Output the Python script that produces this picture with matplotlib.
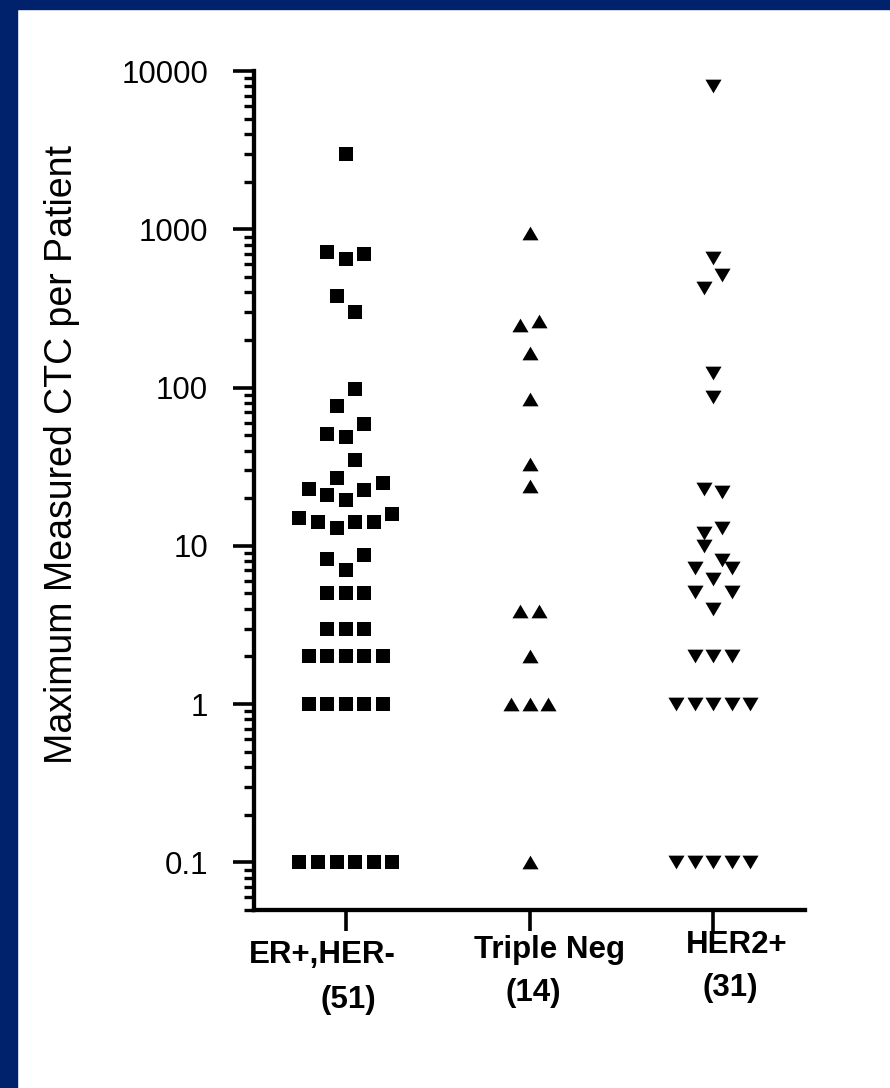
import matplotlib.pyplot as plt
from matplotlib.patches import Rectangle
from matplotlib.ticker import LogLocator, NullFormatter

plt.rcParams['font.family'] = ['Liberation Sans', 'DejaVu Sans']

# groups and patient counts
categories = ['ER+,HER-', 'Triple Neg', 'HER2+']
counts = [51, 14, 31]

# max CTC per patient; slots = horizontal position inside the column
er_vals = [3000, 720, 650, 700, 380, 300,
           98, 76, 59, 51, 49, 35, 27, 25, 23, 21, 22.5, 19.5,
           15, 14.2, 13, 14.2, 14.2, 16, 8.2, 8.8, 7,
           5, 5, 5, 3, 3, 3, 2, 2, 2, 2, 2, 1, 1, 1, 1, 1,
           0.1, 0.1, 0.1, 0.1, 0.1, 0.1]
er_slots = [0, -2, 0, 2, -1, 1,
            1, -1, 2, -2, 0, 1, -1, 4, -4, -2, 2, 0,
            -5, -3, -1, 1, 3, 5, -2, 2, 0,
            -2, 0, 2, -2, 0, 2, -4, -2, 0, 2, 4, -4, -2, 0, 2, 4,
            -5, -3, -1, 1, 3, 5]

tn_vals = [950, 250, 265, 165, 85, 33, 24, 3.9, 3.9, 2, 1, 1, 1, 0.1]
tn_slots = [0, -1, 1, 0, 0, 0, 0, -1, 1, 0, -2, 0, 2, 0]

her_vals = [8000, 660, 515, 425, 124, 87, 23, 22, 13, 12, 10, 8.1,
            7.2, 7.2, 6.2, 5.1, 5.1, 4, 2, 2, 2,
            1, 1, 1, 1, 1, 0.1, 0.1, 0.1, 0.1, 0.1]
her_slots = [0, 0, 1, -1, 0, 0, -1, 1, 1, -1, -1, 1,
             -2, 2, 0, -2, 2, 0, -2, 0, 2,
             -4, -2, 0, 2, 4, -4, -2, 0, 2, 4]

yticks = [0.1, 1, 10, 100, 1000, 10000]
ytick_labels = ['0.1', '1', '10', '100', '1000', '10000']

W, H = 890, 1088
navy = '#00216C'
slot_w = 0.0505

up_tri = [(-1, -0.85), (1, -0.85), (0, 0.85)]
down_tri = [(-1, 0.85), (1, 0.85), (0, -0.85)]

fig = plt.figure(figsize=(W / 100, H / 100), dpi=100)
fig.patches.append(Rectangle((0, 0), 17 / W, 1, transform=fig.transFigure, color=navy))
fig.patches.append(Rectangle((0, 1 - 9 / H), 1, 9 / H, transform=fig.transFigure, color=navy))

ax = fig.add_axes([254 / W, 1 - 910 / H, (805 - 254) / W, (910 - 71) / H])

groups = [(er_vals, er_slots, 's', 9.8),
          (tn_vals, tn_slots, up_tri, 11.6),
          (her_vals, her_slots, down_tri, 11.6)]
for i, (vals, slots, mk, ms) in enumerate(groups):
    xs = [i + 1 + s * slot_w for s in slots]
    ax.plot(xs, vals, linestyle='none', marker=mk, markersize=ms,
            color='black', markeredgewidth=0, clip_on=False)

ax.set_yscale('log')
ax.set_ylim(0.05, 10000)
ax.set_xlim(0.5, 3.5)
ax.set_yticks(yticks)
ax.set_yticklabels(ytick_labels)
ax.yaxis.set_minor_locator(LogLocator(base=10, subs=range(2, 10)))
ax.yaxis.set_minor_formatter(NullFormatter())
ax.set_xticks([1, 2, 3])
ax.set_xticklabels([])

ax.tick_params(axis='y', which='major', length=15, width=2.6, pad=18, labelsize=22.5)
ax.tick_params(axis='y', which='minor', length=7.5, width=2.4)
ax.tick_params(axis='x', which='major', length=15, width=2.6)
ax.tick_params(axis='x', which='minor', length=0)

for s in ['top', 'right']:
    ax.spines[s].set_visible(False)
for s in ['left', 'bottom']:
    ax.spines[s].set_linewidth(3.1)

fig.text(62 / W, 1 - 455 / H, 'Maximum Measured CTC per Patient',
         rotation=90, ha='center', va='center', fontsize=27)

# category labels sit a bit off their ticks on the slide
name_pos = [(322, 955), (550, 950), (737, 945)]
count_pos = [(348, 1000), (533, 993), (730, 988)]
for name, n, (x1, y1), (x2, y2) in zip(categories, counts, name_pos, count_pos):
    fig.text(x1 / W, 1 - y1 / H, name, ha='center', va='center',
             fontsize=22.5, fontweight='bold')
    fig.text(x2 / W, 1 - y2 / H, f'({n})', ha='center', va='center',
             fontsize=22.5, fontweight='bold')

fig.savefig('out.png', dpi=100)
